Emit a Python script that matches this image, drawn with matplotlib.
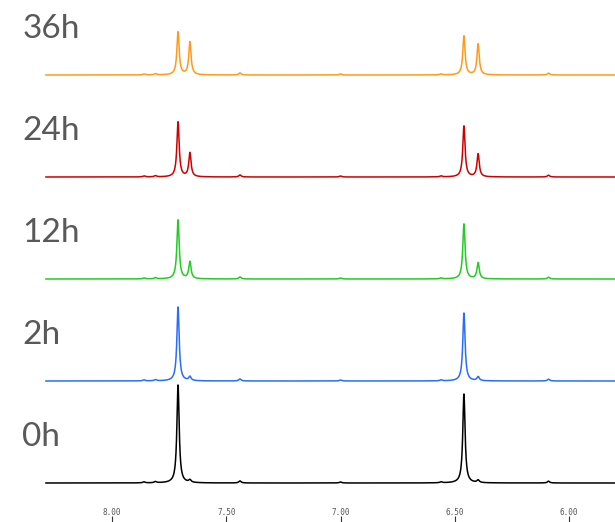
import numpy as np
import matplotlib
matplotlib.use('Agg')
import matplotlib.pyplot as plt
import matplotlib.transforms as mtransforms

# Series labels (bottom to top) and colours
labels = ['0h', '2h', '12h', '24h', '36h']
colors = ['#000000', '#2a6cff', '#22cc22', '#d00000', '#ff9a1a']

# Main peak positions (ppm)
peak_ppm = [7.711, 7.659, 6.460, 6.398]
# Peak heights for each time point, same order as peak_ppm
peak_heights = [
    [98, 2.5, 89, 2.5],
    [74, 4, 68, 4],
    [59, 17, 55, 16],
    [55, 24, 51, 23],
    [43, 33, 39, 31],
]

# Small impurity bumps on the baseline
minor_ppm = [7.86, 7.81, 7.44, 7.00, 6.56, 6.09]
minor_heights = [1.0, 1.2, 2.0, 1.0, 1.0, 1.8]

# Tick labels
tick_ppm = [8.00, 7.50, 7.00, 6.50, 6.00]

# Vertical offset between stacked spectra
stack_step = 102
line_width_ppm = 0.006

ppm = np.linspace(8.289, 5.795, 6000)


def lorentz(x, x0, h, w):
    return h * w**2 / ((x - x0)**2 + w**2)


fig = plt.figure(figsize=(6.15, 5.22), dpi=100)
ax = fig.add_axes([0, 0, 1, 1])

for i, lab in enumerate(labels):
    y = np.zeros_like(ppm)
    for p, h in zip(peak_ppm, peak_heights[i]):
        y += lorentz(ppm, p, h, line_width_ppm)
    for p, h in zip(minor_ppm, minor_heights):
        y += lorentz(ppm, p, h, line_width_ppm)
    base = 39 + i * stack_step
    ax.plot(ppm, y + base, color=colors[i], lw=1.1)
    trans = mtransforms.blended_transform_factory(ax.transAxes, ax.transData)
    ax.text(0.036, base + 46, lab, transform=trans, va='center', ha='left',
            fontsize=24, color='#595959', family=['Lato', 'DejaVu Sans'])

ax.set_xlim(8.490, 5.799)
ax.set_ylim(0, 522)
ax.set_xticks(tick_ppm)
ax.set_xticklabels(['%.2f' % t for t in tick_ppm], family='DejaVu Sans Mono',
                   fontsize=5.5, color='#555555')
ax.tick_params(axis='x', direction='in', length=4.5, width=0.8, pad=-10,
               colors='#333333', labelcolor='#555555')
ax.set_yticks([])
for s in ax.spines.values():
    s.set_visible(False)

plt.savefig('out.png', dpi=100)
